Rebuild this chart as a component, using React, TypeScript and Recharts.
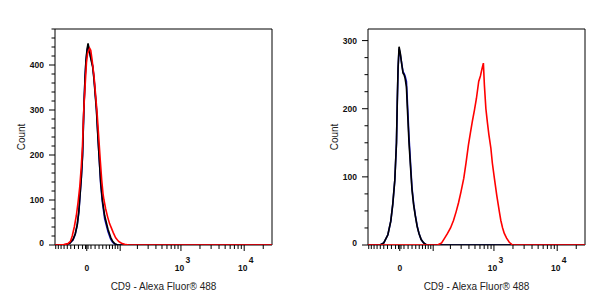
import { LineChart, Line, XAxis, YAxis, ReferenceArea, Label } from "recharts";

// biexponential-ish display: asinh(x / C)
const C = 65;
const X_MIN = -93;
const X_MAX = 27500;

// histogram points: [intensity, count]
const leftBlue = [
  [-74, 0], [-54, 1], [-43, 4], [-34, 11], [-28, 24], [-23, 44], [-19, 73], [-17, 98],
  [-13, 148], [-10, 198], [-7, 298], [-4.2, 368], [-1.9, 408], [0.7, 432], [3.1, 442],
  [5.4, 438], [8.3, 422], [14.2, 398], [17.4, 370], [23.3, 305], [27.4, 238], [29.9, 200],
  [34.4, 135], [39, 95], [45.5, 58], [55.3, 30], [64, 13], [70.7, 6], [78, 2], [89, 0],
];
const leftBlack = [
  [-74, 0], [-54, 1], [-43, 4], [-34, 12], [-28, 25], [-23, 45], [-19, 75], [-17, 100],
  [-13, 150], [-10, 200], [-7, 300], [-4.2, 370], [-1.9, 410], [0.7, 435], [3.1, 448],
  [5.4, 436], [8.3, 420], [14.2, 395], [17.4, 367], [23.3, 300], [27.4, 235], [29.9, 200],
  [34.4, 140], [39, 100], [45.5, 65], [55.3, 35], [64, 17], [70.7, 8], [78, 3], [89, 0],
];
const leftRed = [
  [-82, 0], [-61, 1], [-48, 3], [-41, 8], [-36, 20], [-30.5, 40], [-25.3, 65], [-20.8, 96],
  [-16.7, 130], [-13, 175], [-10.2, 220], [-7.1, 300], [-3.1, 367], [-0.7, 405], [1.9, 425],
  [4.7, 432], [7.1, 437], [9.5, 433], [12.6, 412], [17.4, 375], [21.6, 330], [25.3, 290],
  [29.2, 240], [33.1, 190], [37.1, 145], [40.6, 115], [43.4, 100], [48.4, 80], [54.4, 62],
  [60.6, 47], [66.2, 38], [72.4, 28], [81.6, 16], [93.4, 8], [106, 4], [121, 1.5], [142, 0],
];

const rightBlue = [
  [-51, 0], [-40, 3], [-29, 15], [-21.6, 35], [-16.7, 60], [-11.8, 95], [-7.8, 150],
  [-5.9, 208], [-4, 258], [-1.65, 288], [1.2, 280], [4.7, 266], [7.8, 254], [10.2, 252],
  [12.6, 248], [15.9, 240], [19.1, 200], [22.3, 158], [26.6, 115], [29.9, 84], [34.4, 60],
  [39, 43], [44, 28], [49.3, 17], [55.9, 8], [64, 3], [74, 0],
];
const rightBlack = [
  [-51, 0], [-40, 3], [-29, 15], [-21.6, 35], [-16.7, 60], [-11.8, 95], [-7.8, 150],
  [-5.9, 210], [-4, 260], [-1.65, 291], [1.2, 282], [4.7, 265], [7.8, 252], [10.2, 250],
  [12.6, 245], [15.9, 232], [19.1, 190], [22.3, 150], [26.6, 110], [29.9, 81], [34.4, 58],
  [39, 42], [44, 27], [49.3, 17], [55.9, 8], [64, 3], [74, 0],
];
const rightRed = [
  [120, 0], [142, 3], [160, 10], [179, 17], [201, 25], [225, 36], [249, 49], [272, 62],
  [298, 78], [331, 98], [359, 120], [393, 147], [423, 165], [455, 182], [490, 198],
  [527, 215], [573, 240], [610, 248], [644, 258], [680, 267], [705, 235], [745, 200],
  [787, 180], [831, 162], [894, 142], [944, 120], [1015, 98], [1111, 72], [1217, 49],
  [1285, 36], [1371, 25], [1458, 17], [1585, 10], [1748, 4], [1971, 0],
];

// x axis ticks (intensity)
const X_MINOR = [
  -90, -80, -70, -60, -50, -40, -30, -20, -10, -3, 3, 10, 20, 30, 40, 50, 60, 70, 80, 90,
  200, 300, 400, 500, 600, 700, 800, 900, 2000, 3000, 4000, 5000, 6000, 7000, 8000, 9000, 20000,
];
const X_MAJOR = [0, 100, 1000, 10000];
const X_LABEL_VALUES = [0, 1000, 10000];
const X_LABEL_BASE = ["0", "10", "10"];
const X_LABEL_EXP = ["", "3", "4"];

const LEFT_Y_MAX = 480;
const LEFT_Y_MAJOR = [0, 100, 200, 300, 400];
const RIGHT_Y_MAX = 317;
const RIGHT_Y_MAJOR = [0, 100, 200, 300];

const FONT = "'Liberation Sans', Arial, sans-serif";
const PLOT_TOP = 29;
const PLOT_W = 217;
const PLOT_H = 216;

const tf = (v: number) => Math.asinh(v / C);
const toPoints = (arr: number[][]) =>
  [[X_MIN, 0], ...arr, [X_MAX, 0]].map(([v, count]) => ({ t: tf(v), count }));

const X_TICKS = [...X_MINOR, ...X_MAJOR].sort((a, b) => a - b).map(tf);

function XTick({ x, y, payload }: any) {
  const v = Math.round(C * Math.sinh(payload.value));
  const major = X_MAJOR.includes(v);
  const li = X_LABEL_VALUES.indexOf(v);
  return (
    <g>
      <line x1={x} x2={x} y1={y} y2={y + (major ? 6 : 4)} stroke="#000" strokeWidth={1} />
      {li >= 0 && (
        <text
          x={X_LABEL_EXP[li] ? x - 1.5 : x}
          y={y + 26}
          textAnchor="middle"
          fontSize={8.5}
          fontWeight="bold"
          fontFamily={FONT}
          fill="#111"
        >
          {X_LABEL_BASE[li]}
        </text>
      )}
      {li >= 0 && X_LABEL_EXP[li] && (
        <text x={x + 4.5} y={y + 18} fontSize={8.5} fontWeight="bold" fontFamily={FONT} fill="#111">
          {X_LABEL_EXP[li]}
        </text>
      )}
    </g>
  );
}

function makeYTick(majors: number[]) {
  return ({ x, y, payload }: any) => {
    const major = majors.includes(payload.value);
    return (
      <g>
        <line x1={x - (major ? 6 : 3.5)} x2={x} y1={y} y2={y} stroke="#000" strokeWidth={1} />
        {major && (
          <text
            x={x - 11}
            y={payload.value === 0 ? y - 2.5 : y}
            textAnchor="end"
            dominantBaseline="central"
            fontSize={8.5}
            fontWeight="bold"
            fontFamily={FONT}
            fill="#111"
          >
            {payload.value}
          </text>
        )}
      </g>
    );
  };
}

interface PanelProps {
  width: number;
  plotLeft: number;
  yMax: number;
  yStep: number;
  yMajor: number[];
  blue: number[][];
  black: number[][];
  red: number[][];
}

function Panel({ width, plotLeft, yMax, yStep, yMajor, blue, black, red }: PanelProps) {
  const yTicks = Array.from({ length: Math.floor(yMax / yStep) + 1 }, (_, i) => i * yStep);
  const xDomain = [tf(X_MIN), tf(X_MAX)];
  return (
    <LineChart
      width={width}
      height={303}
      margin={{ top: PLOT_TOP, right: width - plotLeft - PLOT_W, bottom: 0, left: 0 }}
    >
      <ReferenceArea
        x1={xDomain[0]}
        x2={xDomain[1]}
        y1={0}
        y2={yMax}
        fill="none"
        stroke="#000"
        strokeWidth={1}
      />
      <XAxis
        type="number"
        dataKey="t"
        domain={xDomain}
        allowDataOverflow
        ticks={X_TICKS}
        interval={0}
        height={303 - PLOT_TOP - PLOT_H}
        axisLine={false}
        tickLine={false}
        tickSize={0}
        tickMargin={0}
        tick={<XTick />}
      >
        <Label
          content={() => (
            <text
              x={plotLeft + PLOT_W / 2}
              y={290}
              textAnchor="middle"
              fontSize={10}
              fontFamily={FONT}
              fill="#222"
            >
              CD9 - Alexa Fluor® 488
            </text>
          )}
        />
      </XAxis>
      <YAxis
        type="number"
        domain={[0, yMax]}
        allowDataOverflow
        ticks={yTicks}
        interval={0}
        width={plotLeft}
        axisLine={false}
        tickLine={false}
        tickSize={0}
        tickMargin={0}
        tick={makeYTick(yMajor)}
      >
        <Label
          content={() => (
            <text
              x={plotLeft - 34}
              y={PLOT_TOP + PLOT_H / 2}
              transform={`rotate(-90, ${plotLeft - 34}, ${PLOT_TOP + PLOT_H / 2})`}
              textAnchor="middle"
              dominantBaseline="central"
              fontSize={10}
              fontFamily={FONT}
              fill="#222"
            >
              Count
            </text>
          )}
        />
      </YAxis>
      <Line data={toPoints(blue)} dataKey="count" type="linear" stroke="#1010c0" strokeWidth={1.6} dot={false} isAnimationActive={false} />
      <Line data={toPoints(black)} dataKey="count" type="linear" stroke="#000" strokeWidth={1.6} dot={false} isAnimationActive={false} />
      <Line data={toPoints(red)} dataKey="count" type="linear" stroke="#ff0000" strokeWidth={1.6} dot={false} isAnimationActive={false} />
    </LineChart>
  );
}

export default function App() {
  return (
    <div style={{ position: "absolute", left: 0, top: 0, width: 607, height: 303, background: "#fff", display: "flex" }}>
      <Panel width={303} plotLeft={55} yMax={LEFT_Y_MAX} yStep={20} yMajor={LEFT_Y_MAJOR} blue={leftBlue} black={leftBlack} red={leftRed} />
      <Panel width={304} plotLeft={65} yMax={RIGHT_Y_MAX} yStep={25} yMajor={RIGHT_Y_MAJOR} blue={rightBlue} black={rightBlack} red={rightRed} />
    </div>
  );
}
